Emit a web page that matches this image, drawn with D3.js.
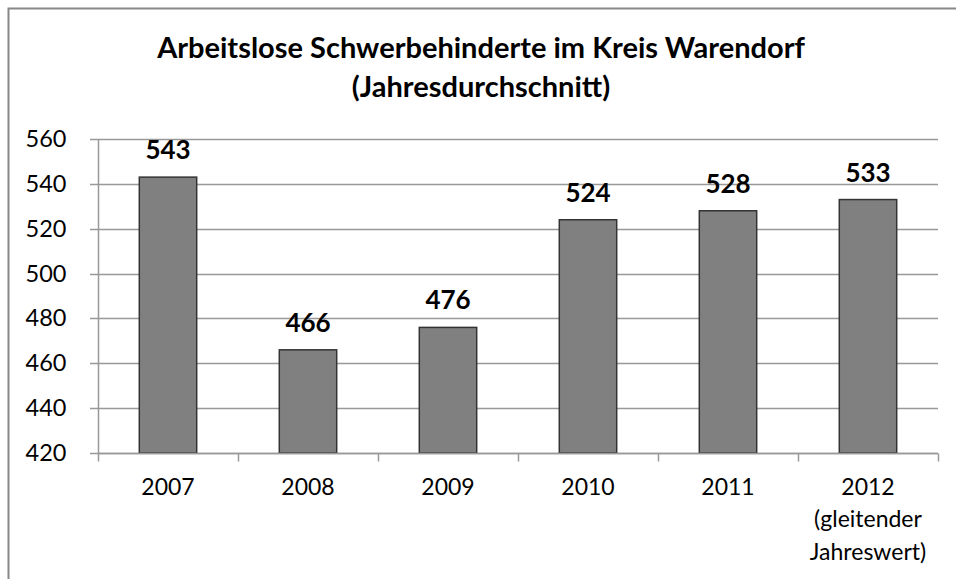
<!DOCTYPE html>
<html>
<head>
<meta charset="utf-8">
<script src="https://cdn.jsdelivr.net/npm/d3@7"></script>
<style>
  body { margin: 0; background: #fff; }
  text { font-family: Lato, "Open Sans", sans-serif; }
</style>
</head>
<body>
<script>
"use strict";

// data
let years = ["2007", "2008", "2009", "2010", "2011", "2012"];
let values = [543, 466, 476, 524, 528, 533];
let yTicks = [420, 440, 460, 480, 500, 520, 540, 560];
let extraLabel = { "2012": ["(gleitender", "Jahreswert)"] };

let width = 956;
let height = 579;

let svg = d3.select("body").append("svg").attr("width", width).attr("height", height);

// outer chart border (only left/top visible in the reference)
svg.append("rect")
  .attr("x", 8.5).attr("y", 8.5)
  .attr("width", 980).attr("height", 620)
  .attr("fill", "none")
  .attr("stroke", "#888")
  .attr("stroke-width", 2);

svg.append("text")
  .attr("x", 481).attr("y", 58)
  .attr("text-anchor", "middle")
  .style("font-size", "29px")
  .style("font-weight", "bold")
  .text("Arbeitslose Schwerbehinderte im Kreis Warendorf");

svg.append("text")
  .attr("x", 481).attr("y", 97)
  .attr("text-anchor", "middle")
  .style("font-size", "29px")
  .style("font-weight", "bold")
  .text("(Jahresdurchschnitt)");

let x = d3.scaleBand()
  .domain(years)
  .range([98, 938])
  .paddingInner(0.59)
  .paddingOuter(0.295);

let y = d3.scaleLinear()
  .domain([420, 560])
  .range([453, 139]);

let g = svg.append("g");

// gridlines
g.selectAll(".grid")
  .data(yTicks)
  .enter()
  .append("line")
  .attr("x1", 90).attr("x2", 938)
  .attr("y1", d => Math.round(y(d)) + 0.5)
  .attr("y2", d => Math.round(y(d)) + 0.5)
  .attr("stroke", "#999")
  .attr("stroke-width", 1.5);

// y axis
let yAxis = d3.axisLeft(y).tickValues(yTicks).tickSize(0).tickPadding(32);
let ya = svg.append("g").attr("transform", "translate(98.5,0)").call(yAxis);
ya.select(".domain").remove();
ya.selectAll("text")
  .style("font-size", "23.5px")
  .style("font-family", "Lato, 'Open Sans', sans-serif")
  .attr("fill", "#000");

svg.append("line")
  .attr("x1", 98.5).attr("x2", 98.5)
  .attr("y1", 139).attr("y2", 453)
  .attr("stroke", "#999").attr("stroke-width", 1.5);

// bars
g.selectAll(".bar")
  .data(values)
  .enter()
  .append("rect")
  .attr("x", (d, i) => x(years[i]))
  .attr("y", d => y(d))
  .attr("width", x.bandwidth())
  .attr("height", d => y(420) - y(d))
  .attr("fill", "#808080")
  .attr("stroke", "#333")
  .attr("stroke-width", 1.5);

// value labels
g.selectAll(".val")
  .data(values)
  .enter()
  .append("text")
  .attr("x", (d, i) => x(years[i]) + x.bandwidth() / 2)
  .attr("y", d => y(d) - 18)
  .attr("text-anchor", "middle")
  .style("font-size", "26px")
  .style("font-weight", "bold")
  .text(d => d);

// x axis
let xa = svg.append("g").attr("transform", "translate(0,453.5)");
xa.append("line")
  .attr("x1", 98).attr("x2", 938)
  .attr("stroke", "#999").attr("stroke-width", 1.5);
xa.selectAll(".tick")
  .data(d3.range(years.length + 1))
  .enter()
  .append("line")
  .attr("x1", i => 98.5 + i * x.step())
  .attr("x2", i => 98.5 + i * x.step())
  .attr("y1", 0).attr("y2", 8)
  .attr("stroke", "#999").attr("stroke-width", 1.5);

let lab = xa.selectAll(".lab")
  .data(years)
  .enter()
  .append("text")
  .attr("x", d => x(d) + x.bandwidth() / 2)
  .attr("y", 41)
  .attr("text-anchor", "middle")
  .style("font-size", "23px");
lab.append("tspan").text(d => d);
lab.each(function (d) {
  let extra = extraLabel[d] || [];
  let t = d3.select(this);
  extra.forEach(function (line) {
    t.append("tspan")
      .attr("x", x(d) + x.bandwidth() / 2)
      .attr("dy", 32.5)
      .text(line);
  });
});
</script>
</body>
</html>
